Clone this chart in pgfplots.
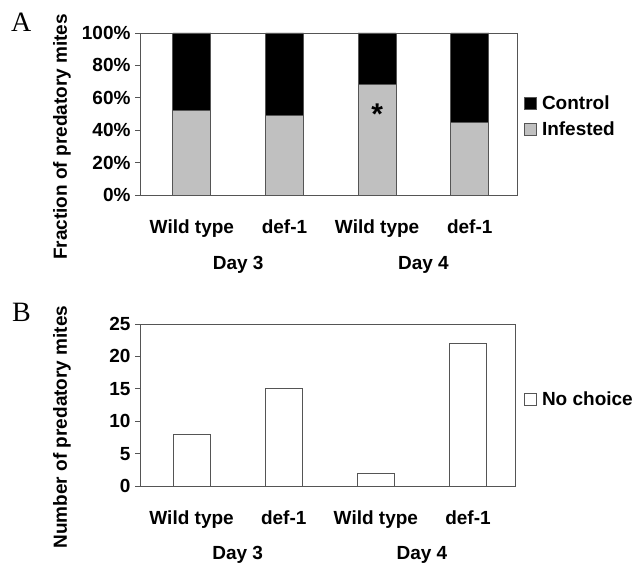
\documentclass[border=0pt]{standalone}
\usepackage{fontspec}
\setmainfont{Liberation Sans}
\newfontfamily\seriffont{Liberation Serif}
\usepackage{pgfplots}
\pgfplotsset{compat=1.18}
\definecolor{infest}{RGB}{192,192,192}
\definecolor{edge}{RGB}{85,85,85}
\pgfplotsset{
  common/.style={
    scale only axis, anchor=south west, clip=false,
    height=162pt,
    xmin=-0.56, xmax=3.51,
    xtick={0,1,2,3},
    xticklabels={Wild type, def-1, Wild type, def-1},
    major x tick style={draw=none},
    axis line style={edge, line width=0.8pt},
    tick style={edge, line width=0.8pt},
    tick align=outside, major tick length=5pt,
    ytick pos=left, xtick pos=bottom,
    font=\fontsize{19}{22}\selectfont\bfseries,
    /pgf/number format/assume math mode=true,
    xticklabel style={yshift=-16pt},
    yticklabel style={xshift=-1pt},
    legend style={draw=none, fill=none, font=\fontsize{19}{22}\selectfont\bfseries,
      row sep=7pt, legend cell align=left},
  },
  sq/.style={legend image code/.code={\draw[##1, draw=edge, line width=0.8pt] (0pt,-6pt) rectangle (12pt,6pt); \path (15pt,0pt);}},
}
\begin{document}
\begin{tikzpicture}
\path[use as bounding box] (0pt,0pt) rectangle (636pt,565pt);
% Panel A
\begin{axis}[common, at={(140pt,370pt)}, width=377pt,
  ybar stacked, bar width=38pt, sq,
  ymin=0, ymax=100, ytick={0,20,40,60,80,100},
  yticklabel={\pgfmathprintnumber{\tick}\%},
  reverse legend,
  legend style={at={(1,0.485)}, anchor=west, xshift=4pt},
]
\addplot[fill=infest, draw=edge, line width=0.8pt] coordinates {(0,52) (1,49) (2,68) (3,45)};
\addplot[fill=black, draw=edge, line width=0.8pt] coordinates {(0,48) (1,51) (2,32) (3,55)};
\legend{Infested, Control}
\node at (axis cs:0.5,0) [yshift=-70pt] {Day 3};
\node at (axis cs:2.5,0) [yshift=-70pt] {Day 4};
\coordinate (star) at (axis cs:2,50);
\end{axis}
\node at (star) {\fontsize{30}{30}\selectfont\bfseries *};
% Panel B
\begin{axis}[common, at={(140pt,79pt)}, width=375pt,
  ybar, bar width=37pt, sq,
  ymin=0, ymax=25, ytick={0,5,10,15,20,25},
  legend style={at={(1,0.537)}, anchor=west, xshift=6pt},
]
\addplot[fill=white, draw=edge, line width=0.8pt] coordinates {(0,8) (1,15) (2,2) (3,22)};
\legend{No choice}
\node at (axis cs:0.5,0) [yshift=-69pt] {Day 3};
\node at (axis cs:2.5,0) [yshift=-69pt] {Day 4};
\end{axis}
\node[rotate=90, font=\fontsize{19}{22}\selectfont\bfseries] at (62pt,428pt) {Fraction of predatory mites};
\node[rotate=90, font=\fontsize{19}{22}\selectfont\bfseries] at (62pt,138pt) {Number of predatory mites};
\node[anchor=base west, inner sep=0pt] at (11pt,533pt) {\seriffont\fontsize{28}{28}\selectfont A};
\node[anchor=base west, inner sep=0pt] at (12pt,243pt) {\seriffont\fontsize{28}{28}\selectfont B};
\end{tikzpicture}
\end{document}
